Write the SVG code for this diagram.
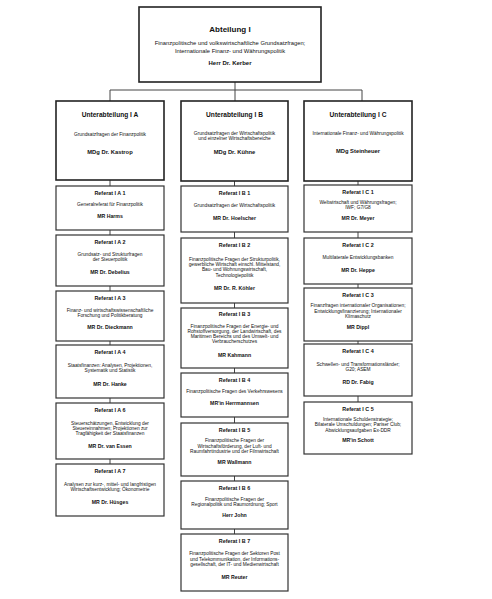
<svg xmlns="http://www.w3.org/2000/svg" width="492" height="599" viewBox="0 0 492 599">
<style>
text{font-family:"Liberation Sans",Arial,sans-serif;fill:#111;text-anchor:middle}
.box{fill:#fff;stroke:#333;stroke-width:1.2}
.big{fill:#fff;stroke:#222;stroke-width:1.6}
.t0{font-size:8px;font-weight:bold}
.d0{font-size:5.8px}
.n0{font-size:6px;font-weight:bold}
.t1{font-size:6.6px;font-weight:bold}
.d1{font-size:4.8px}
.n1{font-size:5.8px;font-weight:bold}
.t2{font-size:5.4px;font-weight:bold}
.d2{font-size:4.8px}
.n2{font-size:5.2px;font-weight:bold}
.c{stroke:#444;stroke-width:1;fill:none}
</style>
<rect width="492" height="599" fill="#fff"/>
<g id="connectors" class="c">
<path d="M235 82V101M110 90H362M110 90V101M362 90V101"/>
<path d="M110 180V186M110 230V235M110 286V291M110 341V345M110 398V403M110 459V464"/>
<path d="M234.5 181V186M234.5 232V238M234.5 303V308M234.5 368V373M234.5 417V423M234.5 476V481M234.5 529V534"/>
<path d="M358 181V185M358 232V238M358 284V288M358 341V344M358 396V402"/>
</g>
<g id="abt1">
<rect class="big" x="139" y="7" width="182" height="75"/>
<text class="t0" x="230" y="32">Abteilung I</text>
<text class="d0" x="230" y="45">Finanzpolitische und volkswirtschaftliche Grundsatzfragen;</text>
<text class="d0" x="230" y="52.5">Internationale Finanz- und Währungspolitik</text>
<text class="n0" x="230" y="64.5">Herr Dr. Kerber</text>
</g>
<g id="ua">
<rect class="big" x="56" y="101" width="108" height="79"/>
<text class="t1" x="110" y="116.5">Unterabteilung I A</text>
<text class="d1" x="110" y="135.5">Grundsatzfragen der Finanzpolitik</text>
<text class="n1" x="110" y="154">MDg Dr. Kastrop</text>
</g>
<g id="ia1">
<rect class="box" x="56" y="186" width="108" height="44"/>
<text class="t2" x="110" y="195">Referat I A 1</text>
<text class="d2" x="110" y="206.2">Generalreferat für Finanzpolitik</text>
<text class="n2" x="110" y="218">MR Harms</text>
</g>
<g id="ia2">
<rect class="box" x="56" y="235" width="108" height="51"/>
<text class="t2" x="110" y="244">Referat I A 2</text>
<text class="d2" x="110" y="256.1">Grundsatz- und Strukturfragen</text>
<text class="d2" x="110" y="261.4">der Steuerpolitik</text>
<text class="n2" x="110" y="274">MR Dr. Debelius</text>
</g>
<g id="ia3">
<rect class="box" x="56" y="291" width="108" height="50"/>
<text class="t2" x="110" y="300">Referat I A 3</text>
<text class="d2" x="110" y="311.6">Finanz- und wirtschaftswissenschaftliche</text>
<text class="d2" x="110" y="316.9">Forschung und Politikberatung</text>
<text class="n2" x="110" y="329">MR Dr. Dieckmann</text>
</g>
<g id="ia4">
<rect class="box" x="56" y="345" width="108" height="53"/>
<text class="t2" x="110" y="354">Referat I A 4</text>
<text class="d2" x="110" y="367.1">Staatsfinanzen: Analysen, Projektionen,</text>
<text class="d2" x="110" y="372.4">Systematik und Statistik</text>
<text class="n2" x="110" y="386">MR Dr. Hanke</text>
</g>
<g id="ia6">
<rect class="box" x="56" y="403" width="108" height="56"/>
<text class="t2" x="110" y="412">Referat I A 6</text>
<text class="d2" x="110" y="424.5">Steuerschätzungen, Entwicklung der</text>
<text class="d2" x="110" y="429.8">Steuereinnahmen; Projektionen zur</text>
<text class="d2" x="110" y="435.1">Tragfähigkeit der Staatsfinanzen</text>
<text class="n2" x="110" y="447.5">MR Dr. van Essen</text>
</g>
<g id="ia7">
<rect class="box" x="56" y="464" width="108" height="52"/>
<text class="t2" x="110" y="473">Referat I A 7</text>
<text class="d2" x="110" y="485.6">Analysen zur kurz-, mittel- und langfristigen</text>
<text class="d2" x="110" y="490.9">Wirtschaftsentwicklung; Ökonometrie</text>
<text class="n2" x="110" y="504">MR Dr. Hüsges</text>
</g>
<g id="ub">
<rect class="big" x="181" y="101" width="107" height="80"/>
<text class="t1" x="234.5" y="116.5">Unterabteilung I B</text>
<text class="d1" x="234.5" y="134.5">Grundsatzfragen der Wirtschaftspolitik</text>
<text class="d1" x="234.5" y="139.8">und einzelner Wirtschaftsbereiche</text>
<text class="n1" x="234.5" y="154">MDg Dr. Kühne</text>
</g>
<g id="ib1">
<rect class="box" x="181" y="186" width="107" height="46"/>
<text class="t2" x="234.5" y="195">Referat I B 1</text>
<text class="d2" x="234.5" y="207.2">Grundsatzfragen der Wirtschaftspolitik</text>
<text class="n2" x="234.5" y="220">MR Dr. Hoelscher</text>
</g>
<g id="ib2">
<rect class="box" x="181" y="238" width="107" height="65"/>
<text class="t2" x="234.5" y="247">Referat I B 2</text>
<text class="d2" x="234.5" y="260.8">Finanzpolitische Fragen der Strukturpolitik,</text>
<text class="d2" x="234.5" y="266.1">gewerbliche Wirtschaft einschl. Mittelstand,</text>
<text class="d2" x="234.5" y="271.4">Bau- und Wohnungswirtschaft,</text>
<text class="d2" x="234.5" y="276.7">Technologiepolitik</text>
<text class="n2" x="234.5" y="290">MR Dr. R. Köhler</text>
</g>
<g id="ib3">
<rect class="box" x="181" y="308" width="107" height="60"/>
<text class="t2" x="234.5" y="316">Referat I B 3</text>
<text class="d2" x="234.5" y="327.5">Finanzpolitische Fragen der Energie- und</text>
<text class="d2" x="234.5" y="332.8">Rohstoffversorgung, der Landwirtschaft, des</text>
<text class="d2" x="234.5" y="338.1">Maritimen Bereichs und des Umwelt- und</text>
<text class="d2" x="234.5" y="343.4">Verbraucherschutzes</text>
<text class="n2" x="234.5" y="357">MR Kahmann</text>
</g>
<g id="ib4">
<rect class="box" x="181" y="373" width="107" height="44"/>
<text class="t2" x="234.5" y="382">Referat I B 4</text>
<text class="d2" x="234.5" y="393.2">Finanzpolitische Fragen des Verkehrswesens</text>
<text class="n2" x="234.5" y="405">MR'in Herrmannsen</text>
</g>
<g id="ib5">
<rect class="box" x="181" y="423" width="107" height="53"/>
<text class="t2" x="234.5" y="432">Referat I B 5</text>
<text class="d2" x="234.5" y="442.4">Finanzpolitische Fragen der</text>
<text class="d2" x="234.5" y="447.7">Wirtschaftsförderung, der Luft- und</text>
<text class="d2" x="234.5" y="453">Raumfahrtindustrie und der Filmwirtschaft</text>
<text class="n2" x="234.5" y="464">MR Wallmann</text>
</g>
<g id="ib6">
<rect class="box" x="181" y="481" width="107" height="48"/>
<text class="t2" x="234.5" y="490">Referat I B 6</text>
<text class="d2" x="234.5" y="500.6">Finanzpolitische Fragen der</text>
<text class="d2" x="234.5" y="505.9">Regionalpolitik und Raumordnung; Sport</text>
<text class="n2" x="234.5" y="517">Herr John</text>
</g>
<g id="ib7">
<rect class="box" x="181" y="534" width="107" height="57"/>
<text class="t2" x="234.5" y="543">Referat I B 7</text>
<text class="d2" x="234.5" y="555.4">Finanzpolitische Fragen der Sektoren Post</text>
<text class="d2" x="234.5" y="560.7">und Telekommunikation, der Informations-</text>
<text class="d2" x="234.5" y="566">gesellschaft, der IT- und Medienwirtschaft</text>
<text class="n2" x="234.5" y="579">MR Reuter</text>
</g>
<g id="uc">
<rect class="big" x="304" y="101" width="108" height="80"/>
<text class="t1" x="358" y="116.5">Unterabteilung I C</text>
<text class="d1" x="358" y="134.5">Internationale Finanz- und Währungspolitik</text>
<text class="n1" x="358" y="153">MDg Steinheuer</text>
</g>
<g id="ic1">
<rect class="box" x="304" y="185" width="108" height="47"/>
<text class="t2" x="358" y="194">Referat I C 1</text>
<text class="d2" x="358" y="204.1">Weltwirtschaft und Währungsfragen;</text>
<text class="d2" x="358" y="209.4">IWF; G7/G8</text>
<text class="n2" x="358" y="220">MR Dr. Meyer</text>
</g>
<g id="ic2">
<rect class="box" x="304" y="238" width="108" height="46"/>
<text class="t2" x="358" y="247">Referat I C 2</text>
<text class="d2" x="358" y="259.2">Multilaterale Entwicklungsbanken</text>
<text class="n2" x="358" y="272">MR Dr. Heppe</text>
</g>
<g id="ic3">
<rect class="box" x="304" y="288" width="108" height="53"/>
<text class="t2" x="358" y="297">Referat I C 3</text>
<text class="d2" x="358" y="307.4">Finanzfragen internationaler Organisationen;</text>
<text class="d2" x="358" y="312.7">Entwicklungsfinanzierung; Internationaler</text>
<text class="d2" x="358" y="318">Klimaschutz</text>
<text class="n2" x="358" y="329">MR Dippl</text>
</g>
<g id="ic4">
<rect class="box" x="304" y="344" width="108" height="52"/>
<text class="t2" x="358" y="353">Referat I C 4</text>
<text class="d2" x="358" y="365.6">Schwellen- und Transformationsländer;</text>
<text class="d2" x="358" y="370.9">G20; ASEM</text>
<text class="n2" x="358" y="384">RD Dr. Fabig</text>
</g>
<g id="ic5">
<rect class="box" x="304" y="402" width="108" height="52"/>
<text class="t2" x="358" y="411">Referat I C 5</text>
<text class="d2" x="358" y="420.9">Internationale Schuldenstrategie;</text>
<text class="d2" x="358" y="426.2">Bilaterale Umschuldungen; Pariser Club;</text>
<text class="d2" x="358" y="431.5">Abwicklungsaufgaben Ex-DDR</text>
<text class="n2" x="358" y="442">MR'in Schott</text>
</g>
</svg>
